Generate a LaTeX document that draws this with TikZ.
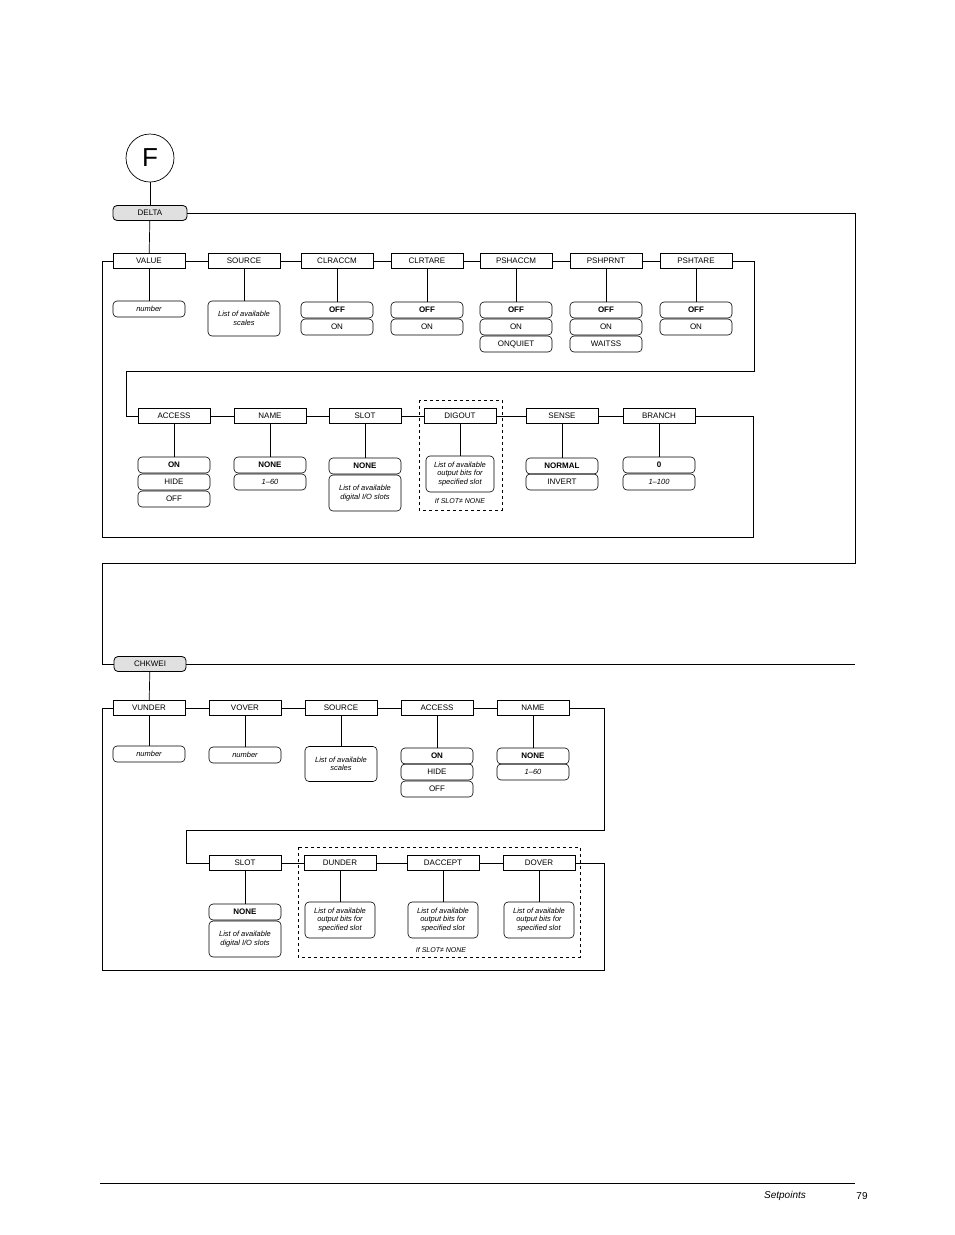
\documentclass[tikz,border=0pt]{standalone}
\usepackage{fontspec}
\setmainfont{Liberation Sans}
\begin{document}
\begin{tikzpicture}[x=1pt,y=-1pt,
  menu/.style={draw,line width=0.8pt,minimum width=72pt,minimum height=15pt,inner sep=0pt,font=\fontsize{8}{9}\selectfont},
  top/.style={menu,rounded corners=4pt,fill=black!12},
  val/.style={draw,line width=0.6pt,rounded corners=4pt,minimum width=72pt,minimum height=16pt,inner sep=1pt,font=\fontsize{8}{9}\selectfont,align=center},
  bval/.style={val,font=\fontsize{8}{9}\selectfont\bfseries},
  ival/.style={val,font=\fontsize{7.5}{8.5}\selectfont\itshape},
  ln/.style={line width=0.7pt},
  dbox/.style={dashed,line width=0.6pt},
  note/.style={font=\fontsize{7}{8}\selectfont\itshape}]
\useasboundingbox (0,0) rectangle (954,1235);
% F
\node[draw,circle,line width=0.7pt,minimum size=48pt,inner sep=0pt,font=\fontsize{26}{28}\selectfont] (F) at (150,158) {F};
\node[top,minimum width=74pt] (delta) at (150,213) {DELTA};
\draw[ln] (F) -- (delta);
% row1
\foreach \n/\x/\t in {value/149/VALUE,source/244/SOURCE,clraccm/337/CLRACCM,clrtare/427/CLRTARE,pshaccm/516/PSHACCM,pshprnt/606/PSHPRNT,pshtare/696/PSHTARE}
  \node[menu] (\n) at (\x,261) {\t};
\draw[ln] (delta) -- (value);
\draw[ln] (value) -- (source) -- (clraccm) -- (clrtare) -- (pshaccm) -- (pshprnt) -- (pshtare);
\node[ival] (v1) at (149,309) {number};
\node[ival,minimum height=35pt] (s1) at (244,318.5) {List of available\\scales};
\node[bval] (c1) at (337,310) {OFF}; \node[val] (c2) at (337,327) {ON};
\node[bval] (t1) at (427,310) {OFF}; \node[val] (t2) at (427,327) {ON};
\node[bval] (a1) at (516,310) {OFF}; \node[val] (a2) at (516,327) {ON}; \node[val] (a3) at (516,344) {ONQUIET};
\node[bval] (p1) at (606,310) {OFF}; \node[val] (p2) at (606,327) {ON}; \node[val] (p3) at (606,344) {WAITSS};
\node[bval] (h1) at (696,310) {OFF}; \node[val] (h2) at (696,327) {ON};
\foreach \a/\b in {value/v1,source/s1,clraccm/c1,clrtare/t1,pshaccm/a1,pshprnt/p1,pshtare/h1}
  \draw[ln] (\a) -- (\b);
% row2
\foreach \n/\x/\t in {access/174/ACCESS,name/270/NAME,slot/365/SLOT,digout/460/DIGOUT,sense/562/SENSE,branch/659/BRANCH}
  \node[menu] (\n) at (\x,416) {\t};
\draw[ln] (access) -- (name) -- (slot) -- (digout) -- (sense) -- (branch);
\draw[ln] (pshtare.east) -- (754,261) -- (754,371) -- (126,371) -- (126,416) -- (access.west);
\draw[ln] (value.west) -- (102,261) -- (102,537) -- (753,537) -- (753,416) -- (branch.east);
\node[bval] (ac1) at (174,465) {ON}; \node[val] (ac2) at (174,482) {HIDE}; \node[val] (ac3) at (174,499) {OFF};
\node[bval] (n1) at (270,465) {NONE}; \node[ival] (n2) at (270,482) {1--60};
\node[bval] (sl1) at (365,466) {NONE}; \node[ival,minimum height=36pt] (sl2) at (365,493) {List of available\\digital I/O slots};
\node[ival,minimum width=68pt,minimum height=36pt] (d1) at (460,474) {List of available\\output bits for\\specified slot};
\node[note] (dn) at (460,501) {If SLOT≠ NONE};
\draw[dbox] (419,400) rectangle (502,510);
\node[bval] (se1) at (562,466) {NORMAL}; \node[val] (se2) at (562,482) {INVERT};
\node[bval] (b1) at (659,465) {0}; \node[ival] (b2) at (659,482) {1--100};
\foreach \a/\b in {access/ac1,name/n1,slot/sl1,digout/d1,sense/se1,branch/b1}
  \draw[ln] (\a) -- (\b);
% CHKWEI
\node[top] (chk) at (150,664) {CHKWEI};
\draw[ln] (delta.east) -- (855,213) -- (855,563) -- (102,563) -- (102,664) -- (chk.west);
\draw[ln] (chk.east) -- (855,664);
% row3
\foreach \n/\x/\t in {vunder/149/VUNDER,vover/245/VOVER,source2/341/SOURCE,access2/437/ACCESS,name2/533/NAME}
  \node[menu] (\n) at (\x,708) {\t};
\draw[ln] (chk) -- (vunder);
\draw[ln] (vunder) -- (vover) -- (source2) -- (access2) -- (name2);
\node[ival] (vu1) at (149,754) {number};
\node[ival] (vo1) at (245,755) {number};
\node[ival,minimum height=35pt] (so1) at (341,764) {List of available\\scales};
\node[bval] (aa1) at (437,756) {ON}; \node[val] (aa2) at (437,772) {HIDE}; \node[val] (aa3) at (437,789) {OFF};
\node[bval] (nn1) at (533,756) {NONE}; \node[ival] (nn2) at (533,772) {1--60};
\foreach \a/\b in {vunder/vu1,vover/vo1,source2/so1,access2/aa1,name2/nn1}
  \draw[ln] (\a) -- (\b);
% row4
\foreach \n/\x/\t in {slot2/245/SLOT,dunder/340/DUNDER,daccept/443/DACCEPT,dover/539/DOVER}
  \node[menu] (\n) at (\x,863) {\t};
\draw[ln] (slot2) -- (dunder) -- (daccept) -- (dover);
\draw[ln] (name2.east) -- (604,708) -- (604,830) -- (186,830) -- (186,863) -- (slot2.west);
\draw[ln] (vunder.west) -- (102,708) -- (102,970) -- (604,970) -- (604,863) -- (dover.east);
\node[bval] (ss1) at (245,912) {NONE}; \node[ival,minimum height=36pt] (ss2) at (245,939) {List of available\\digital I/O slots};
\node[ival,minimum width=70pt,minimum height=36pt] (du1) at (340,920) {List of available\\output bits for\\specified slot};
\node[ival,minimum width=70pt,minimum height=36pt] (da1) at (443,920) {List of available\\output bits for\\specified slot};
\node[ival,minimum width=70pt,minimum height=36pt] (do1) at (539,920) {List of available\\output bits for\\specified slot};
\node[note] (dn2) at (441,950) {If SLOT≠ NONE};
\draw[dbox] (298,847) rectangle (580,957);
\foreach \a/\b in {slot2/ss1,dunder/du1,daccept/da1,dover/do1}
  \draw[ln] (\a) -- (\b);
% footer
\draw[line width=0.6pt] (100,1183) -- (855,1183);
\node[font=\fontsize{10}{12}\selectfont\itshape] (ft) at (785,1196) {Setpoints};
\node[font=\fontsize{10}{12}\selectfont] (pg) at (862,1196) {79};
\end{tikzpicture}
\end{document}
